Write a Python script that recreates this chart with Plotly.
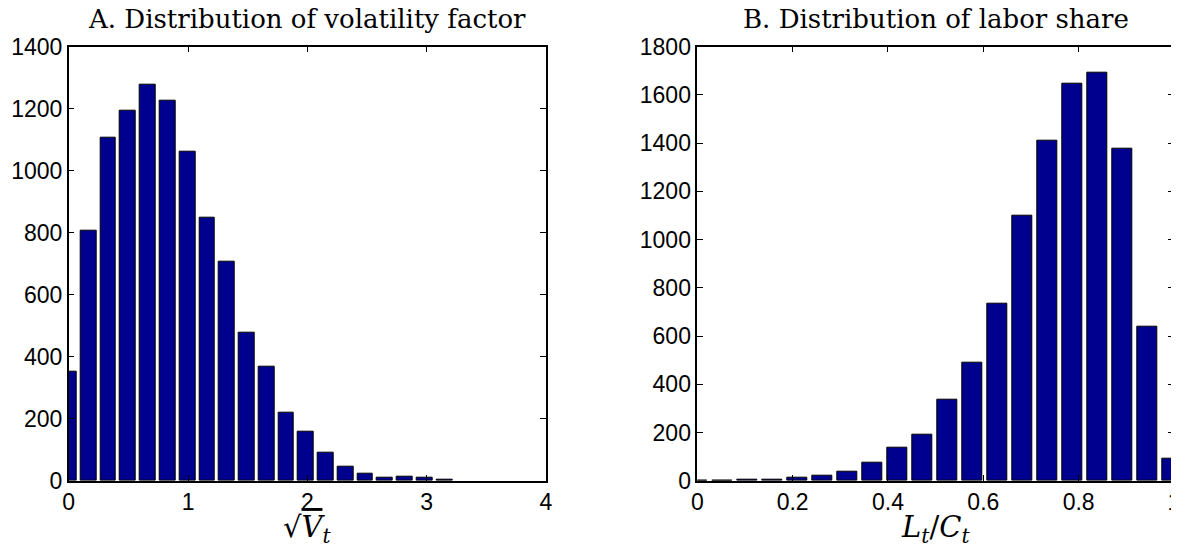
import plotly.graph_objects as go

# Panel A: volatility factor histogram
vol_step = 0.1657
vol_centers = [round(i * vol_step, 4) for i in range(20)]
vol_counts = [352, 806, 1108, 1194, 1277, 1226, 1060, 850, 708, 479,
              369, 219, 158, 90, 45, 23, 11, 12, 10, 3]
vol_xticks = [0, 1, 2, 3, 4]
vol_yticks = [0, 200, 400, 600, 800, 1000, 1200, 1400]

# Panel B: labor share histogram
lab_step = 0.0524
lab_centers = [round(i * lab_step, 4) for i in range(20)]
lab_counts = [1, 0, 3, 6, 12, 21, 38, 76, 136, 190,
              335, 491, 734, 1099, 1409, 1645, 1693, 1378, 639, 91]
lab_xticks = [0, 0.2, 0.4, 0.6, 0.8, 1]
lab_yticks = [0, 200, 400, 600, 800, 1000, 1200, 1400, 1600, 1800]

BAR = "rgb(0,0,143)"
tick_font = dict(family="Liberation Sans, Arial, sans-serif", size=23, color="black")
serif = "DejaVu Serif, Liberation Serif, serif"

fig = go.Figure()
fig.add_trace(go.Bar(x=vol_centers, y=vol_counts, width=[0.8 * vol_step] * len(vol_centers),
                     marker=dict(color=BAR, line=dict(color="black", width=1)),
                     xaxis="x", yaxis="y", showlegend=False))
fig.add_trace(go.Bar(x=lab_centers, y=lab_counts, width=[0.8 * lab_step] * len(lab_centers),
                     marker=dict(color=BAR, line=dict(color="black", width=1)),
                     xaxis="x2", yaxis="y2", showlegend=False))

# page body has an 8px margin; lay out in figure pixels accordingly
OFF = 8
W, H = 1179, 546 - OFF


def px_x(p):
    return (p - OFF) / W


def px_y(p):
    return 1 - (p - OFF) / H


yd = [px_y(480.7), px_y(46.7)]
ax_common = dict(showline=True, linecolor="black", linewidth=1.5, mirror="ticks",
                 ticks="inside", ticklen=6, tickwidth=1, tickcolor="black",
                 showgrid=False, zeroline=False, tickfont=tick_font, automargin=False,
                 ticklabeloverflow="allow")

fig.update_layout(
    width=W, height=H,
    margin=dict(l=0, r=0, t=0, b=0, autoexpand=False),
    paper_bgcolor="white", plot_bgcolor="white",
    bargap=0,
    xaxis=dict(domain=[px_x(68.7), px_x(546)], range=[0, 4], tickvals=vol_xticks,
               anchor="y", **ax_common),
    yaxis=dict(domain=yd, range=[0, 1400], tickvals=vol_yticks, anchor="x", **ax_common),
    xaxis2=dict(domain=[px_x(697.3), px_x(1174)], range=[0, 1], tickvals=lab_xticks,
                ticktext=["0", "0.2", "0.4", "0.6", "0.8", "1"],
                anchor="y2", **ax_common),
    yaxis2=dict(domain=yd, range=[0, 1800], tickvals=lab_yticks, anchor="x2", **ax_common),
)

fig.add_annotation(text="A. Distribution of volatility factor", xref="paper", yref="paper",
                   x=px_x((68.7 + 546) / 2), y=px_y(19), showarrow=False,
                   xanchor="center", yanchor="middle",
                   font=dict(family=serif, size=26, color="black"))
fig.add_annotation(text="B. Distribution of labor share", xref="paper", yref="paper",
                   x=px_x((697.3 + 1174) / 2), y=px_y(19), showarrow=False,
                   xanchor="center", yanchor="middle",
                   font=dict(family=serif, size=26, color="black"))
fig.add_annotation(text="√<span style='text-decoration:overline'><i>V</i></span><i><sub>t</sub></i>",
                   xref="paper", yref="paper",
                   x=px_x((68.7 + 546) / 2), y=px_y(529), showarrow=False,
                   xanchor="center", yanchor="middle",
                   font=dict(family=serif, size=29, color="black"))
fig.add_annotation(text="<i>L<sub>t</sub></i>/<i>C<sub>t</sub></i>", xref="paper", yref="paper",
                   x=px_x((697.3 + 1174) / 2), y=px_y(529), showarrow=False,
                   xanchor="center", yanchor="middle",
                   font=dict(family=serif, size=29, color="black"))

fig.write_html("out.html")
